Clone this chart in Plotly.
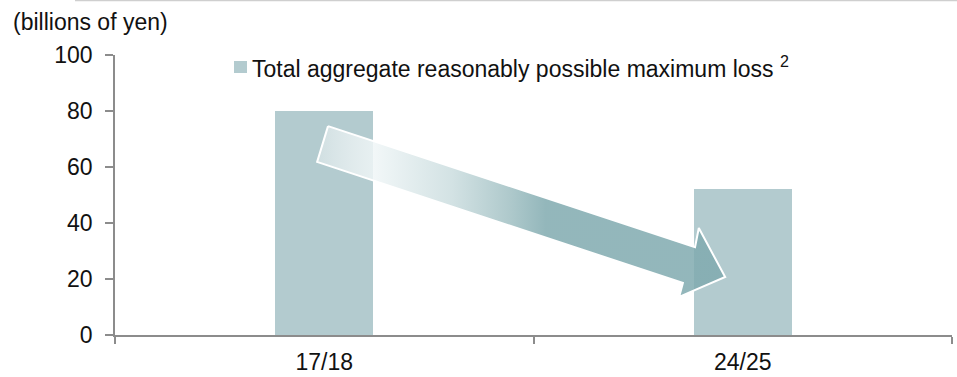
import plotly.graph_objects as go

# Chart data
categories = ["17/18", "24/25"]
max_loss = [80, 52]
y_ticks = [0, 20, 40, 60, 80, 100]

series_name = "Total aggregate reasonably possible maximum loss"
series_note = "2"
unit_label = "(billions of yen)"

BAR_COLOR = "#b3cbcf"
AXIS_COLOR = "#8c8c8c"
FONT = "Liberation Sans, Arial, sans-serif"
FONT_SIZE = 23

# Downward trend arrow, in axis units (x: category index, y: value)
arrow_x = [0.009, 0.886, 0.895, 0.958, 0.848, 0.857, -0.017, 0.009]
arrow_y = [74.6, 31.4, 38.2, 20.7, 13.6, 18.6, 61.8, 74.6]

# Plot-area geometry (pixels) used to place paper-referenced decorations
PLOT_L, PLOT_W = 115, 837
PLOT_B, PLOT_H = 335, 280


def px_x(px):
    return (px - PLOT_L) / PLOT_W


def px_y(py):
    return (PLOT_B - py) / PLOT_H


fig = go.Figure()

fig.add_trace(go.Bar(
    x=categories,
    y=max_loss,
    name=series_name,
    marker=dict(color=BAR_COLOR, line=dict(width=0)),
    width=0.235,
    showlegend=False,
))

fig.add_trace(go.Scatter(
    x=arrow_x,
    y=arrow_y,
    mode="lines",
    fill="toself",
    fillgradient=dict(
        type="horizontal",
        start=min(arrow_x),
        stop=max(arrow_x),
        colorscale=[
            [0.0, "rgba(255,255,255,0.38)"],
            [0.135, "rgba(240,246,247,0.85)"],
            [0.33, "rgba(203,221,223,0.85)"],
            [0.47, "rgba(161,192,195,0.85)"],
            [0.56, "rgba(128,170,175,0.85)"],
            [1.0, "rgba(128,170,175,0.85)"],
        ],
    ),
    line=dict(color="white", width=2),
    hoverinfo="skip",
    showlegend=False,
    xaxis="x2",
))

fig.update_layout(
    width=957,
    height=377,
    margin=dict(l=PLOT_L, r=957 - PLOT_L - PLOT_W, t=377 - 42 - PLOT_H, b=42),
    paper_bgcolor="white",
    plot_bgcolor="white",
    font=dict(family=FONT, size=FONT_SIZE, color="#111111"),
    bargap=0.0,
    showlegend=False,
    xaxis=dict(
        type="category",
        range=[-0.5, 1.5],
        showline=True,
        linecolor=AXIS_COLOR,
        linewidth=1.5,
        ticks="outside",
        tickson="boundaries",
        ticklen=7,
        tickcolor=AXIS_COLOR,
        tickwidth=1.5,
        showgrid=False,
        zeroline=False,
        tickfont=dict(family=FONT, size=FONT_SIZE),
        ticklabelstandoff=6,
        automargin=False,
    ),
    xaxis2=dict(
        overlaying="x",
        range=[-0.5, 1.5],
        visible=False,
    ),
    yaxis=dict(
        range=[0, 100],
        tickvals=y_ticks,
        showline=True,
        linecolor=AXIS_COLOR,
        linewidth=1.5,
        ticks="outside",
        ticklen=8,
        tickcolor=AXIS_COLOR,
        tickwidth=1.5,
        showgrid=False,
        zeroline=False,
        tickfont=dict(family=FONT, size=FONT_SIZE),
        ticklabelstandoff=8,
        automargin=False,
    ),
    annotations=[
        dict(
            text=unit_label,
            xref="paper",
            yref="paper",
            x=px_x(11),
            y=px_y(22),
            xanchor="left",
            yanchor="middle",
            showarrow=False,
            font=dict(family=FONT, size=FONT_SIZE),
        ),
        dict(
            text=series_name + " <sup>" + series_note + "</sup>",
            xref="paper",
            yref="paper",
            x=px_x(250),
            y=px_y(67),
            xanchor="left",
            yanchor="middle",
            showarrow=False,
            font=dict(family=FONT, size=FONT_SIZE),
        ),
    ],
    shapes=[
        # legend swatch
        dict(
            type="rect",
            xref="paper",
            yref="paper",
            x0=px_x(234),
            x1=px_x(247),
            y0=px_y(73),
            y1=px_y(61),
            fillcolor=BAR_COLOR,
            line=dict(width=0),
        ),
        # thin rule along the top edge
        dict(
            type="line",
            xref="paper",
            yref="paper",
            x0=px_x(75),
            x1=px_x(957),
            y0=px_y(0.5),
            y1=px_y(0.5),
            line=dict(color="#cfcfcf", width=1.5),
        ),
    ],
)

fig.write_html("out.html")
